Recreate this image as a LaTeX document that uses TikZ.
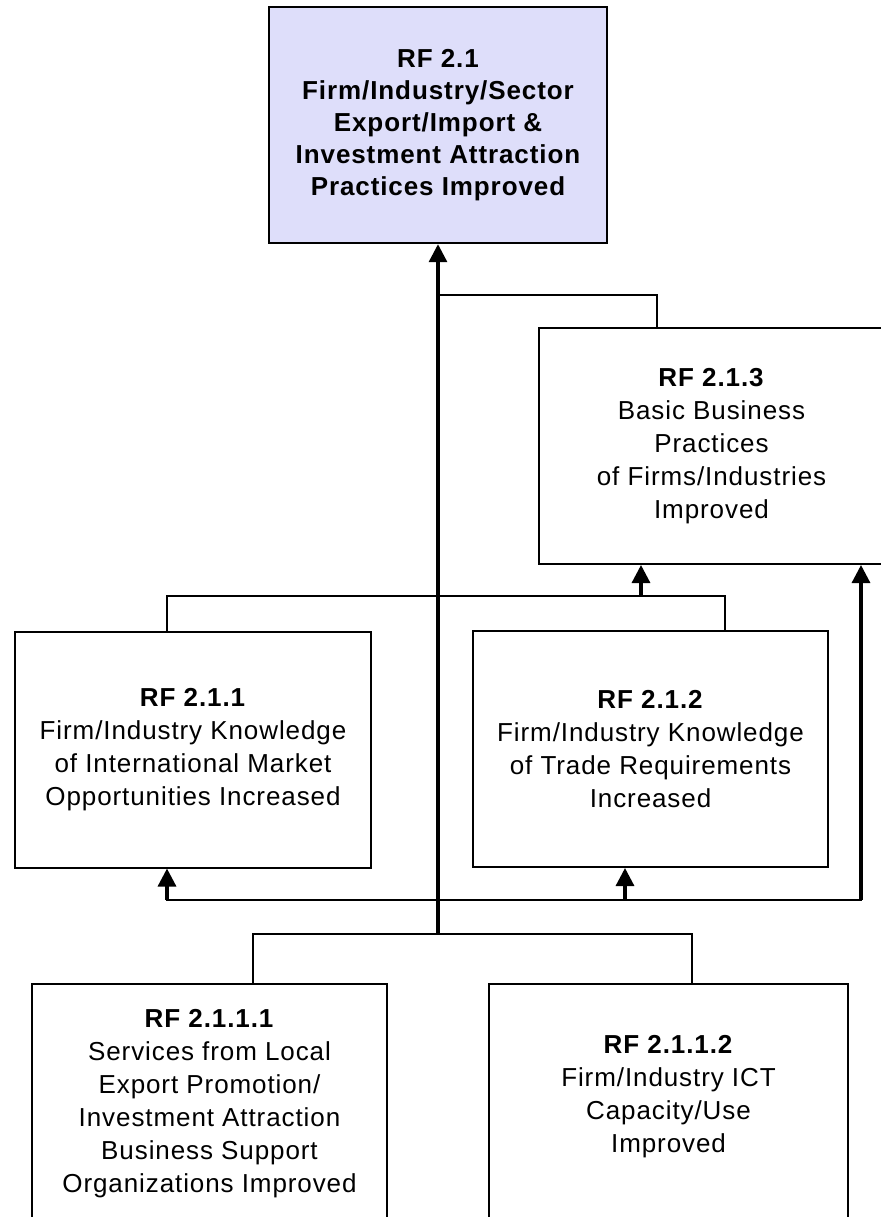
\documentclass[tikz,border=0pt]{standalone}
\usepackage{fontspec}
\setmainfont{Liberation Sans}[LetterSpace=3.5]
\usetikzlibrary{arrows.meta, positioning, calc}
\definecolor{toplilac}{RGB}{222,222,250}

\begin{document}
\begin{tikzpicture}[
    x=0.5pt, y=-0.5pt,
    rfbox/.style={rectangle, draw=black, line width=1pt, align=center, inner sep=0pt,
                  minimum width=#1, minimum height=118pt,
                  font=\fontsize{13}{16.5}\selectfont},
    topbox/.style={rfbox=169pt, fill=toplilac, line width=1.2pt,
                   font=\bfseries\fontsize{13}{16}\selectfont},
    lowbox/.style={rfbox=#1, minimum height=120pt},
    conn/.style={line width=1pt, line cap=rect},
    arrow/.style={-{Triangle[length=9pt, width=9pt]}, line width=1.6pt}
]
\useasboundingbox (0,0) rectangle (880,1217);

\node[topbox] (rf21) at (438,125) {RF 2.1\\Firm/Industry/Sector\\Export/Import \&\\Investment Attraction\\Practices Improved};
\node[rfbox=172.5pt] (rf213) at (711.5,446) {\textbf{RF 2.1.3}\\Basic Business\\Practices\\of Firms/Industries\\Improved};
\node[rfbox=178pt] (rf211) at (193,749.5) {\textbf{RF 2.1.1}\\Firm/Industry Knowledge\\of International Market\\Opportunities Increased};
\node[rfbox=177.5pt] (rf212) at (650.5,749) {\textbf{RF 2.1.2}\\Firm/Industry Knowledge\\of Trade Requirements\\Increased};
\node[lowbox=177.5pt] (rf2111) at (209.5,1104) {\textbf{RF 2.1.1.1}\\Services from Local\\Export Promotion/\\Investment Attraction\\Business Support\\Organizations Improved};
\node[lowbox=179.5pt] (rf2112) at (668.5,1104) {\textbf{RF 2.1.1.2}\\Firm/Industry ICT\\Capacity/Use\\Improved\\[-6.5pt]};

% joints of the connector lines
\coordinate (hubTop) at (438,295);
\coordinate (hubLow) at (438,934);
\coordinate (tap213) at (657,328);
\coordinate (barOneL) at (167,596);
\coordinate (barOneM) at (641,596);
\coordinate (barOneR) at (725,596);
\coordinate (barTwoL) at (167,900);
\coordinate (barTwoM) at (625,900);
\coordinate (barTwoR) at (861,900);
\coordinate (barThreeL) at (253,934);
\coordinate (barThreeR) at (692,934);

% main trunk up to RF 2.1
\draw[arrow] (hubLow) -- (rf21.south);
\draw[conn] (hubTop) -| (tap213);

% RF 2.1.1 / RF 2.1.2 feed RF 2.1.3
\draw[conn] (barOneL |- rf211.north) -- (barOneL) -- (barOneR) -- (barOneR |- rf212.north);
\draw[arrow] (barOneM) -- (barOneM |- rf213.south);

% lower bar feeding the middle row and RF 2.1.3
\draw[conn] (barTwoL) -- (barTwoR);
\draw[arrow] (barTwoL) -- (barTwoL |- rf211.south);
\draw[arrow] (barTwoM) -- (barTwoM |- rf212.south);
\draw[arrow] (barTwoR) -- (barTwoR |- rf213.south);

% bottom row
\draw[conn] (barThreeL |- rf2111.north) -- (barThreeL) -- (barThreeR) -- (barThreeR |- rf2112.north);
\end{tikzpicture}
\end{document}
